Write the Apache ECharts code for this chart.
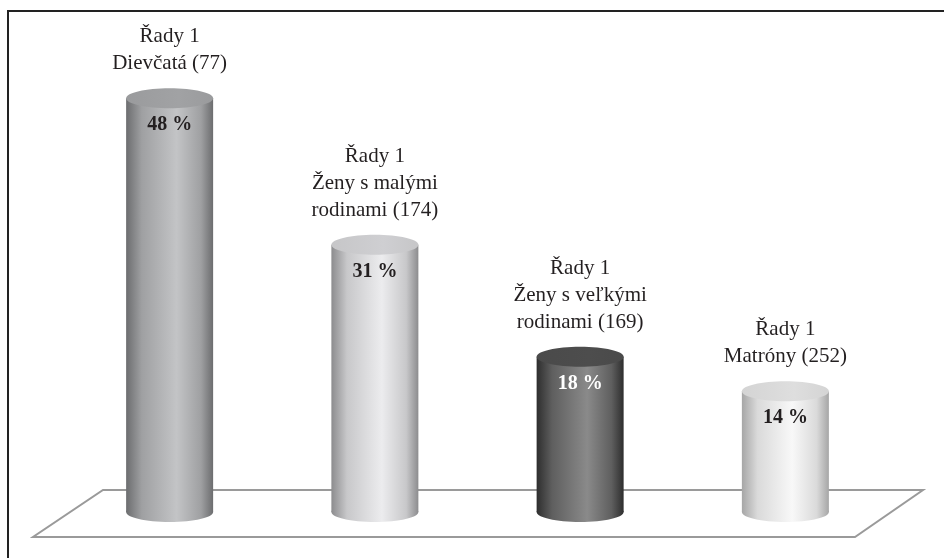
<!DOCTYPE html>
<html>
<head>
<meta charset="utf-8">
<script src="https://cdn.jsdelivr.net/npm/echarts@6/dist/echarts.min.js"></script>
<style>
  html, body { margin: 0; padding: 0; background: #fff; }
  #main { width: 944px; height: 558px; }
</style>
</head>
<body>
<div id="main"></div>
<script>
var seriesName = 'Řady 1';
var categories = ['Dievčatá (77)', 'Ženy s malými\nrodinami (174)', 'Ženy s veľkými\nrodinami (169)', 'Matróny (252)'];
var values = [48, 31, 18, 14];

// shading per cylinder: [edge, mid, light, top]
var shades = [
    ['#6c6d6f', '#9fa0a2', '#c3c4c6', '#9a9b9d'],
    ['#8c8c8e', '#c8c8ca', '#ececee', '#c6c6c8'],
    ['#2e2e2e', '#5f5f5f', '#8a8a8a', '#4a4a4a'],
    ['#a6a6a6', '#dadada', '#f8f8f8', '#d4d4d4']
];
var valueColors = ['#231f20', '#231f20', '#fff', '#231f20'];

var myChart = echarts.init(document.getElementById('main'));

function bodyFill(i) {
    var s = shades[i];
    return new echarts.graphic.LinearGradient(0, 0, 1, 0, [
        { offset: 0, color: s[0] },
        { offset: 0.18, color: s[1] },
        { offset: 0.58, color: s[2] },
        { offset: 0.86, color: s[1] },
        { offset: 1, color: s[0] }
    ]);
}

function renderCylinder(params, api) {
    var i = params.dataIndex;
    var top = api.coord([api.value(0), api.value(1)]);
    var base = api.coord([api.value(0), 0]);
    var rx = 43.5, ry = 10;
    var cx = top[0];
    var fill = bodyFill(i);
    return {
        type: 'group',
        children: [
            {
                type: 'ellipse',
                shape: { cx: cx, cy: base[1], rx: rx, ry: ry },
                style: { fill: fill }
            },
            {
                type: 'rect',
                shape: { x: cx - rx, y: top[1], width: rx * 2, height: base[1] - top[1] },
                style: { fill: fill }
            },
            {
                type: 'ellipse',
                shape: { cx: cx, cy: top[1], rx: rx, ry: ry },
                style: {
                    fill: new echarts.graphic.LinearGradient(0, 0, 1, 0, [
                        { offset: 0, color: shades[i][3] },
                        { offset: 0.6, color: echarts.color.lift(shades[i][3], -0.05) },
                        { offset: 1, color: shades[i][3] }
                    ])
                }
            },
            {
                type: 'text',
                style: {
                    text: values[i] + ' %',
                    x: cx,
                    y: top[1] + 27,
                    align: 'center',
                    verticalAlign: 'middle',
                    fill: valueColors[i],
                    font: 'bold 20px "Liberation Serif", "DejaVu Serif", serif'
                }
            },
            {
                type: 'text',
                style: {
                    text: seriesName + '\n' + categories[i],
                    x: cx,
                    y: top[1] - ry - 11,
                    align: 'center',
                    verticalAlign: 'bottom',
                    lineHeight: 27,
                    fill: '#231f20',
                    font: '21px "Liberation Serif", "DejaVu Serif", serif'
                }
            }
        ]
    };
}

var option = {
    animation: false,
    backgroundColor: '#fff',
    grid: { left: 67, width: 821, top: 81, bottom: 46 },
    xAxis: {
        type: 'category',
        data: categories,
        show: false
    },
    yAxis: {
        type: 'value',
        min: 0,
        max: 50,
        show: false
    },
    graphic: [
        {
            type: 'rect',
            z: -10,
            shape: { x: 8, y: 11, width: 1000, height: 1000 },
            style: { fill: '#fff', stroke: '#222', lineWidth: 2 }
        },
        {
            type: 'polygon',
            z: -5,
            shape: { points: [[103, 490], [923, 490], [855, 537], [33, 537]] },
            style: { fill: '#fff', stroke: '#9a9a9a', lineWidth: 2 }
        }
    ],
    series: [{
        name: seriesName,
        type: 'custom',
        z: 10,
        renderItem: renderCylinder,
        data: values.map(function (v, i) { return [i, v]; })
    }]
};
myChart.setOption(option);
</script>
</body>
</html>
